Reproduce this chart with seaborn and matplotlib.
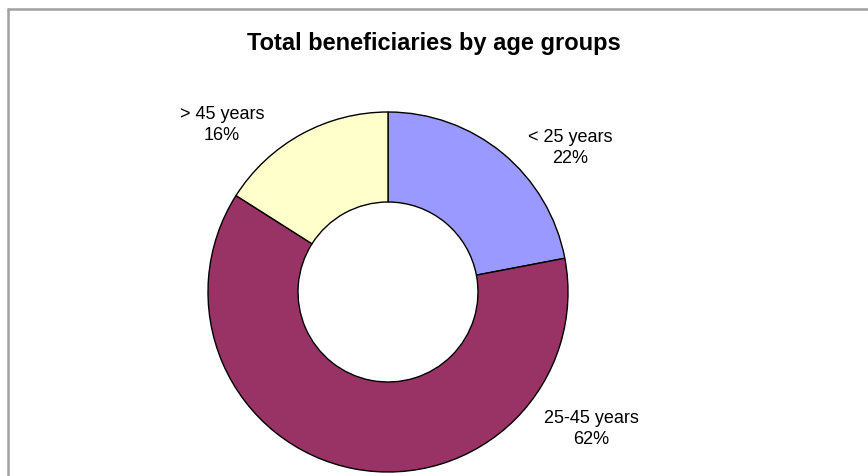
import matplotlib
matplotlib.use("Agg")
import matplotlib.pyplot as plt
import seaborn as sns
from matplotlib.lines import Line2D

# data
age_groups = ["< 25 years", "25-45 years", "> 45 years"]
shares = [22, 62, 16]
slice_colors = ["#9999FF", "#993366", "#FFFFCC"]
title = "Total beneficiaries by age groups"

sns.set_theme(style="white")
plt.rcParams["font.family"] = ["Liberation Sans", "DejaVu Sans"]
plt.rcParams["text.color"] = "black"

fig = plt.figure(figsize=(8.68, 4.77), dpi=100)
ax = fig.add_axes([0, 0, 1, 1])

palette = sns.color_palette(slice_colors)
wedges, _ = ax.pie(
    shares,
    colors=palette,
    startangle=90,
    counterclock=False,
    radius=1.0,
    wedgeprops=dict(width=0.5, edgecolor="black", linewidth=1.0),
)

# label positions in units of the donut radius
label_pos = [(1.011, 0.806), (1.128, -0.756), (-0.922, 0.933)]
for name, val, (lx, ly) in zip(age_groups, shares, label_pos):
    ax.text(lx, ly, f"{name}\n{val}%", ha="center", va="center",
            fontsize=13, linespacing=1.35, color="black")

# map data units to pixels: centre at (388, 293) px, radius 180 px
ax.set_xlim(-388 / 180, 480 / 180)
ax.set_ylim((293 - 477) / 180, 293 / 180)
ax.set_aspect("auto")
ax.axis("off")

fig.text(0.5, 1 - 50 / 477, title, ha="center", va="baseline",
         fontsize=17, fontweight="bold", color="black")

# chart-area frame (only top and left edges visible)
x0 = 7.5 / 868
y0 = 1 - 9.5 / 477
fig.add_artist(Line2D([x0, 1.0], [y0, y0], color="#A0A0A0", linewidth=1.8,
                      transform=fig.transFigure))
fig.add_artist(Line2D([x0, x0], [0.0, y0], color="#A0A0A0", linewidth=1.8,
                      transform=fig.transFigure))

fig.savefig("out.png", dpi=100)
